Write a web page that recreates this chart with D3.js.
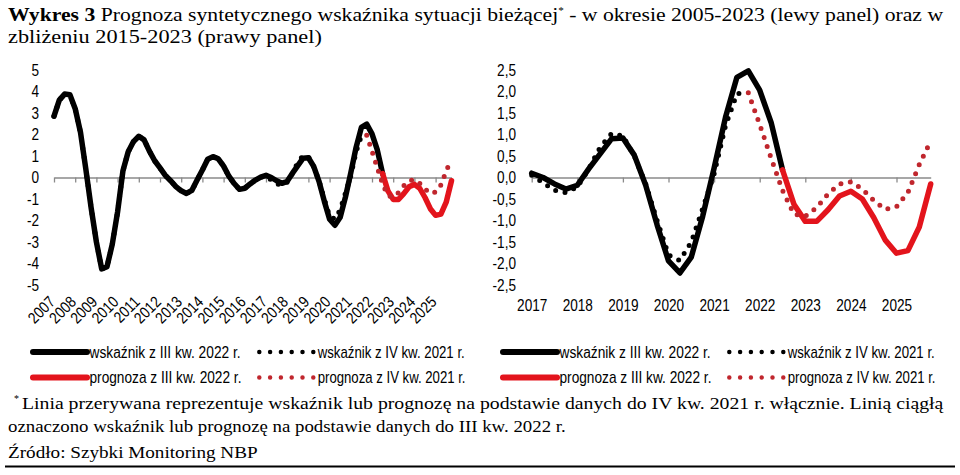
<!DOCTYPE html>
<html><head><meta charset="utf-8">
<script src="https://cdn.jsdelivr.net/npm/d3@7/dist/d3.min.js"></script>
<style>
body{margin:0;background:#fff;}
svg{display:block;}
</style></head>
<body>
<svg id="chart" width="960" height="475"></svg>
<script>
// ---------------- DATA ----------------
const firstYear = 2007;                       // quarter index 0 = 2007 Q1
const leftYearLabels  = ["2007","2008","2009","2010","2011","2012","2013","2014","2015","2016","2017","2018","2019","2020","2021","2022","2023","2024","2025"];
const rightYearLabels = ["2017","2018","2019","2020","2021","2022","2023","2024","2025"];
const leftYTicks  = [5,4,3,2,1,0,-1,-2,-3,-4,-5];
const rightYTicks = [2.5,2,1.5,1,0.5,0,-0.5,-1,-1.5,-2,-2.5];

// wskaźnik z III kw. 2022 r. — 2007 Q1 .. 2022 Q3
const indexQ3_2022 = [
  2.85, 3.6, 3.88, 3.85, 3.2, 2.1, 0.4, -1.4,
  -3.0, -4.25, -4.15, -3.1, -1.6, 0.3, 1.2, 1.67,
  1.92, 1.75, 1.23, 0.78, 0.45, 0.1, -0.15, -0.42,
  -0.62, -0.74, -0.6, -0.12, 0.35, 0.85, 0.97, 0.87,
  0.53, 0.06, -0.28, -0.55, -0.5, -0.3, -0.12, 0.02,
  0.1, 0.0, -0.15, -0.27, -0.18, 0.2, 0.55, 0.9,
  0.92, 0.52, -0.18, -1.1, -1.94, -2.22, -1.85, -0.9,
  0.22, 1.4, 2.33, 2.48, 2.03, 1.28, 0.18
];
const indexQ3_2022Start = "2007Q1";
// prognoza z III kw. 2022 r. — 2022 Q3 .. 2025 Q4
const forecastQ3_2022 = [0.18, -0.62, -1.02, -1.02, -0.75, -0.43, -0.32, -0.5, -0.93, -1.45, -1.76, -1.7, -1.15, -0.15];
const forecastQ3_2022Start = "2022Q3";
// wskaźnik z IV kw. 2021 r. — 2007 Q1 .. 2021 Q4
const indexQ4_2021 = [
  2.85, 3.6, 3.88, 3.85, 3.2, 2.1, 0.4, -1.4,
  -3.0, -4.25, -4.15, -3.1, -1.6, 0.3, 1.2, 1.67,
  1.92, 1.75, 1.23, 0.78, 0.45, 0.1, -0.15, -0.42,
  -0.62, -0.74, -0.6, -0.12, 0.35, 0.85, 0.97, 0.87,
  0.53, 0.06, -0.28, -0.55, -0.5, -0.3, -0.12, 0.02,
  0.05, -0.12, -0.3, -0.35, -0.22, 0.2, 0.7, 1.02,
  0.97, 0.5, -0.15, -1.0, -1.8, -1.93, -1.5, -0.72,
  0.08, 1.2, 1.95, 1.97
];
const indexQ4_2021Start = "2007Q1";
// prognoza z IV kw. 2021 r. — 2021 Q4 .. 2025 Q4
const forecastQ4_2021 = [1.97, 1.23, 0.45, -0.3, -0.85, -0.9, -0.7, -0.38, -0.15, -0.1, -0.27, -0.53, -0.74, -0.68, -0.35, 0.3, 0.85];
const forecastQ4_2021Start = "2021Q4";

const legendNames = ["wskaźnik z III kw. 2022 r.", "wskaźnik z IV kw. 2021 r.", "prognoza z III kw. 2022 r.", "prognoza z IV kw. 2021 r."];

// ---------------- HELPERS ----------------
const SANS = "'Liberation Sans', Arial, sans-serif";
const SERIF = "'Liberation Serif', 'Times New Roman', serif";
const BLACK = "#000000", RED = "#e3141c", DRED = "#c0262d";

const qIndex = s => (+s.slice(0,4) - firstYear) * 4 + (+s.slice(5) - 1);
const toPts = (arr, start) => arr.map((v, k) => ({q: qIndex(start) + k, v}));

const series = [
  {pts: toPts(indexQ3_2022, indexQ3_2022Start), color: BLACK, dotted: false},
  {pts: toPts(indexQ4_2021, indexQ4_2021Start), color: BLACK, dotted: true},
  {pts: toPts(forecastQ3_2022, forecastQ3_2022Start), color: RED, dotted: false},
  {pts: toPts(forecastQ4_2021, forecastQ4_2021Start), color: DRED, dotted: true}
];

const svg = d3.select("#chart");

function condense(sel, factor) {
  sel.each(function() {
    const w = this.getComputedTextLength();
    d3.select(this).attr("textLength", w * factor).attr("lengthAdjust", "spacingAndGlyphs");
  });
}

function fitText(x, y, width, size, family, build) {
  const g = svg.append("g");
  const t = g.append("text").attr("x", 0).attr("y", 0)
    .attr("font-size", size).attr("font-family", family).attr("fill", "#000");
  build(t);
  const w = t.node().getBBox().width;
  g.attr("transform", `translate(${x},${y}) scale(${width / w},1)`);
  return g;
}

// ---------------- PANELS ----------------
function panel(o) {
  const x = d3.scaleLinear().domain([o.q0, o.q1]).range([o.x0, o.x1]);
  const y = d3.scaleLinear().domain([-o.yMax, o.yMax]).range([285, 70]);
  const g = svg.append("g");

  // y labels
  const yg = g.append("g").attr("transform", `translate(${o.yLabelX},0)`)
    .call(d3.axisLeft(y).tickValues(o.yTicks).tickSize(0).tickPadding(0).tickFormat(o.fmt));
  yg.select(".domain").remove();
  yg.selectAll("text").attr("font-size", 17).attr("font-family", SANS).attr("fill", "#000");
  condense(yg.selectAll("text"), 0.8);

  // zero line with ticks
  const yearQs = o.labels.map(l => (+l - firstYear) * 4);
  const zg = g.append("g").attr("transform", `translate(0,${y(0)})`)
    .call(d3.axisBottom(x).tickValues(yearQs).tickSize(5).tickSizeOuter(0).tickFormat(""));
  zg.select(".domain").attr("stroke", "#8a8a8a").attr("stroke-width", 1.6);
  zg.selectAll(".tick line").attr("stroke", "#8a8a8a").attr("stroke-width", 1.3);

  // x labels
  if (o.rotate) {
    const rl = g.append("g").selectAll("text").data(o.labels).join("text")
      .attr("transform", d => `translate(${x((+d - firstYear) * 4) + 2},303) rotate(-45)`)
      .attr("text-anchor", "end")
      .attr("font-size", 16).attr("font-family", SANS).attr("fill", "#000")
      .text(d => d);
    condense(rl, 0.85);
  } else {
    const xg = g.append("g").attr("transform", "translate(0,299)")
      .call(d3.axisBottom(x).tickValues(yearQs).tickSize(0).tickPadding(0).tickFormat((d, i) => o.labels[i]));
    xg.select(".domain").remove();
    xg.selectAll("text").attr("font-size", 17).attr("font-family", SANS).attr("fill", "#000");
    condense(xg.selectAll("text"), 0.8);
  }

  // series
  const line = d3.line().x(d => x(d.q)).y(d => y(d.v));
  series.forEach(s => {
    const pts = s.pts.filter(d => d.q >= o.q0 && d.q <= o.q1);
    const p = g.append("path").datum(pts).attr("d", line)
      .attr("fill", "none").attr("stroke", s.color)
      .attr("stroke-linejoin", "round").attr("stroke-linecap", "round");
    if (s.dotted) p.attr("stroke-width", 5).attr("stroke-dasharray", "0 9.5");
    else p.attr("stroke-width", 5.5);
  });
}

panel({q0: 0, q1: 75, x0: 54, x1: 451.5, yMax: 5, yTicks: leftYTicks, yLabelX: 39,
       fmt: d => String(d), labels: leftYearLabels, rotate: true});
panel({q0: 40, q1: 75, x0: 531.7, x1: 930.7, yMax: 2.5, yTicks: rightYTicks, yLabelX: 516,
       fmt: d => d.toFixed(1).replace(".", ","), labels: rightYearLabels, rotate: false});

// ---------------- LEGENDS ----------------
function legend(dx) {
  const rows = [352, 377.5];
  const styles = [
    [{color: BLACK, dotted: false, name: legendNames[0]}, {color: BLACK, dotted: true, name: legendNames[1]}],
    [{color: RED, dotted: false, name: legendNames[2]}, {color: DRED, dotted: true, name: legendNames[3]}]
  ];
  rows.forEach((ry, r) => {
    styles[r].forEach((s, c) => {
      const lx0 = c === 0 ? 33 + dx : 259.3 + dx;
      const lx1 = c === 0 ? 87 + dx : 313.4 + dx;
      const l = svg.append("line").attr("x1", lx0).attr("x2", lx1).attr("y1", ry).attr("y2", ry)
        .attr("stroke", s.color).attr("stroke-linecap", "round");
      if (s.dotted) l.attr("stroke-width", 4.5).attr("stroke-dasharray", "0 10.8");
      else l.attr("stroke-width", 6);
      const tx = c === 0 ? 89.5 + dx : 317.7 + dx;
      const tw = c === 0 ? 152 : 148;
      fitText(tx, ry + 5.5, tw, 16, SANS, t => t.text(s.name));
    });
  });
}
legend(0);
legend(470);

// ---------------- TITLE & NOTES ----------------
fitText(8, 21, 936, 19.5, SERIF, t => {
  t.append("tspan").attr("font-weight", "bold").text("Wykres 3");
  t.append("tspan").text(" Prognoza syntetycznego wskaźnika sytuacji bieżącej");
  t.append("tspan").attr("font-size", 10).attr("dy", -7).text("*");
  t.append("tspan").attr("dy", 7).text(" - w okresie 2005-2023 (lewy panel) oraz w");
});
fitText(8, 43, 314, 19.5, SERIF, t => t.text("zbliżeniu 2015-2023 (prawy panel)"));

svg.append("text").attr("x", 14).attr("y", 402).attr("font-size", 10).attr("font-family", SERIF).text("*");
fitText(22, 409, 922, 17.5, SERIF, t => t.text("Linia przerywana reprezentuje wskaźnik lub prognozę na podstawie danych do IV kw. 2021 r. włącznie. Linią ciągłą"));
fitText(8, 432, 558, 17.5, SERIF, t => t.text("oznaczono wskaźnik lub prognozę na podstawie danych do III kw. 2022 r."));
fitText(8, 458, 250, 17.5, SERIF, t => t.text("Źródło: Szybki Monitoring NBP"));
svg.append("line").attr("x1", 5).attr("x2", 955).attr("y1", 466.5).attr("y2", 466.5)
  .attr("stroke", "#000").attr("stroke-width", 2);
</script>
</body></html>
